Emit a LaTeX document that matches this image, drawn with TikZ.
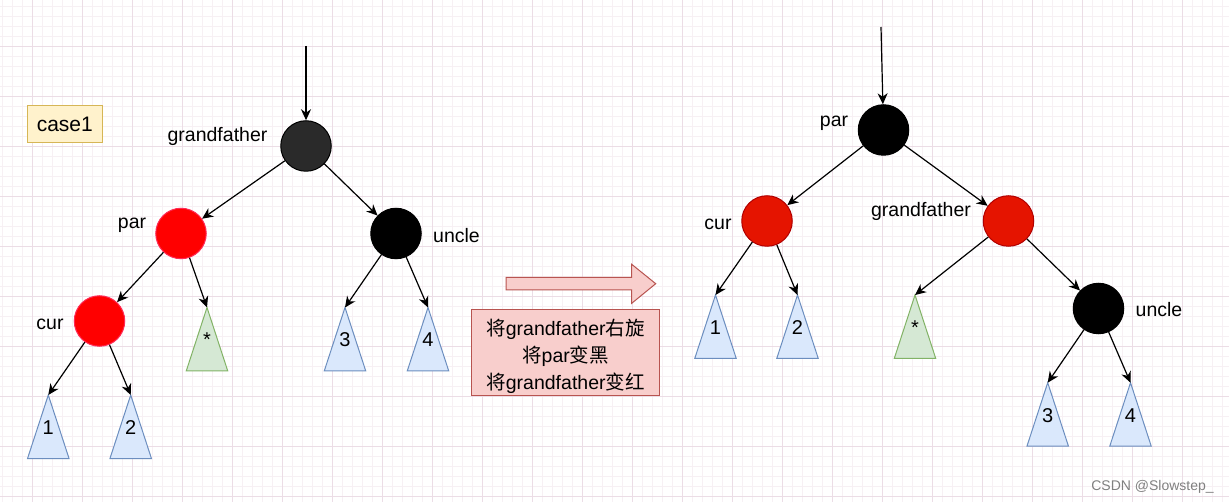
\documentclass[tikz,border=0pt]{standalone}
\usepackage{fontspec}
\setmainfont{Liberation Sans}
\newfontfamily\cjk{Noto Sans CJK SC}
\usetikzlibrary{arrows.meta}

\definecolor{gridmin}{HTML}{F7F0F4}
\definecolor{gridmaj}{HTML}{ECDDE6}
\definecolor{darknode}{HTML}{2A2A2A}
\definecolor{redA}{HTML}{FF0000}
\definecolor{redAline}{HTML}{FF2A55}
\definecolor{redB}{HTML}{E51400}
\definecolor{redBline}{HTML}{B20000}
\definecolor{blueF}{HTML}{DAE8FC}
\definecolor{blueL}{HTML}{6C8EBF}
\definecolor{greenF}{HTML}{D5E8D4}
\definecolor{greenL}{HTML}{82B366}
\definecolor{noteF}{HTML}{F8CECC}
\definecolor{noteL}{HTML}{B85450}
\definecolor{caseF}{HTML}{FFF2CC}
\definecolor{caseL}{HTML}{D6B656}

\newcommand\subtree[4]{%
  \coordinate (#1) at #2;
  \draw[#4] (#1) -- ++(-20.75,63.5) -- ++(41.5,0) -- cycle;
  \path (#1) ++(0,32.5) node[digit] (#1n) {#3};}

\begin{document}
\begin{tikzpicture}[x = 1pt, y = -1pt,
    edge/.style = {draw, line width = 1.2pt, -{Stealth[length = 11pt, width = 10pt, inset = 3.5pt]}},
    rbnode/.style = {circle, minimum size = 50.5pt, inner sep = 0pt, line width = 1pt},
    blk/.style = {rbnode, draw = black, fill = black},
    redl/.style = {rbnode, draw = redAline, fill = redA},
    redr/.style = {rbnode, draw = redBline, fill = redB},
    lbl/.style = {anchor = base, inner sep = 0pt, font = \fontsize{19.5}{21}\selectfont},
    digit/.style = {inner sep = 0pt, font = \fontsize{20}{22}\selectfont},
    bluetri/.style = {draw = blueL, fill = blueF, line width = 1pt, line join = miter},
    greentri/.style = {draw = greenL, fill = greenF, line width = 1pt, line join = miter}]
    \useasboundingbox (0,0) rectangle (1229,502);
    \fill[white] (0,0) rectangle (1229,502);
    \foreach \x in {2,12,...,1222} \draw[gridmin, line width = 0.8pt] (\x,0) -- (\x,502);
    \foreach \y in {6,16,...,496} \draw[gridmin, line width = 0.8pt] (0,\y) -- (1229,\y);
    \foreach \x in {32,82,...,1182} \draw[gridmaj, line width = 0.8pt] (\x,0) -- (\x,502);
    \foreach \y in {46,96,...,496} \draw[gridmaj, line width = 0.8pt] (0,\y) -- (1229,\y);

    \node[draw = caseL, fill = caseF, line width = 1pt, minimum width = 75pt, minimum height = 37.7pt,
        font = \fontsize{21}{23}\selectfont] (case) at (64.8,123.9) {case1};

    % before
    \coordinate (ltop) at (306,46);
    \node[rbnode, draw = black, fill = darknode] (lgf) at (306,146) {};
    \node[redl] (lpar) at (181,233.5) {};
    \node[blk] (lunc) at (396,233.5) {};
    \node[redl] (lcur) at (99.5,321) {};
    \subtree{lstar}{(207,307.5)}{*}{greentri}
    \subtree{lt3}{(345,307.5)}{3}{bluetri}
    \subtree{lt4}{(428,307.5)}{4}{bluetri}
    \subtree{lt1}{(48.3,395)}{1}{bluetri}
    \subtree{lt2}{(130.7,395)}{2}{bluetri}
    \node[lbl] (lgfl) at (217.5,142) {grandfather};
    \node[lbl] (lparl) at (132,229) {par};
    \node[lbl] (luncl) at (456.5,243) {uncle};
    \node[lbl] (lcurl) at (50,330) {cur};
    \draw[edge] (ltop) -- (lgf);
    \draw[edge] (lgf) -- (lpar);
    \draw[edge] (lgf) -- (lunc);
    \draw[edge] (lpar) -- (lcur);
    \draw[edge] (lpar) -- (lstar);
    \draw[edge] (lunc) -- (lt3);
    \draw[edge] (lunc) -- (lt4);
    \draw[edge] (lcur) -- (lt1);
    \draw[edge] (lcur) -- (lt2);

    % rotation
    \draw[draw = noteL, fill = noteF, line width = 1pt] (506,277.3) -- (631.7,277.3) -- (631.7,264.3)
        -- (655.7,283.7) -- (631.7,303.3) -- (631.7,290) -- (506,290) -- cycle;
    \node[draw = noteL, fill = noteF, line width = 1pt, minimum width = 187.6pt,
        minimum height = 86.7pt] (rotbox) at (565.5,352.4) {};
    \node[align = center, inner sep = 0pt, font = \fontsize{19.5}{27}\selectfont] (rottxt) at (565.5,356.5)
        {{\cjk 将}grandfather{\cjk 右旋}\\{\cjk 将}par{\cjk 变黑}\\{\cjk 将}grandfather{\cjk 变红}};

    % after
    \coordinate (rtop) at (881,27);
    \node[blk] (rpar) at (883.5,130) {};
    \node[redr] (rcur) at (767,221) {};
    \node[redr] (rgf) at (1008.5,221) {};
    \node[blk] (runc) at (1098.5,308.5) {};
    \subtree{rt1}{(715.5,295)}{1}{bluetri}
    \subtree{rt2}{(797.5,295)}{2}{bluetri}
    \subtree{rstar}{(915,295)}{*}{greentri}
    \subtree{rt3}{(1047.7,382.7)}{3}{bluetri}
    \subtree{rt4}{(1130.5,382.7)}{4}{bluetri}
    \node[lbl] (rparl) at (834,126.7) {par};
    \node[lbl] (rcurl) at (718,230) {cur};
    \node[lbl] (rgfl) at (921,216.7) {grandfather};
    \node[lbl] (runcl) at (1159,316.7) {uncle};
    \draw[edge] (rtop) -- (rpar);
    \draw[edge] (rpar) -- (rcur);
    \draw[edge] (rpar) -- (rgf);
    \draw[edge] (rcur) -- (rt1);
    \draw[edge] (rcur) -- (rt2);
    \draw[edge] (rgf) -- (rstar);
    \draw[edge] (rgf) -- (runc);
    \draw[edge] (runc) -- (rt3);
    \draw[edge] (runc) -- (rt4);

    \node[anchor = base, inner sep = 0pt, text = gray, font = \fontsize{14}{16}\selectfont] (mark)
        at (1152.5,490) {CSDN @Slowstep\_};
\end{tikzpicture}
\end{document}
